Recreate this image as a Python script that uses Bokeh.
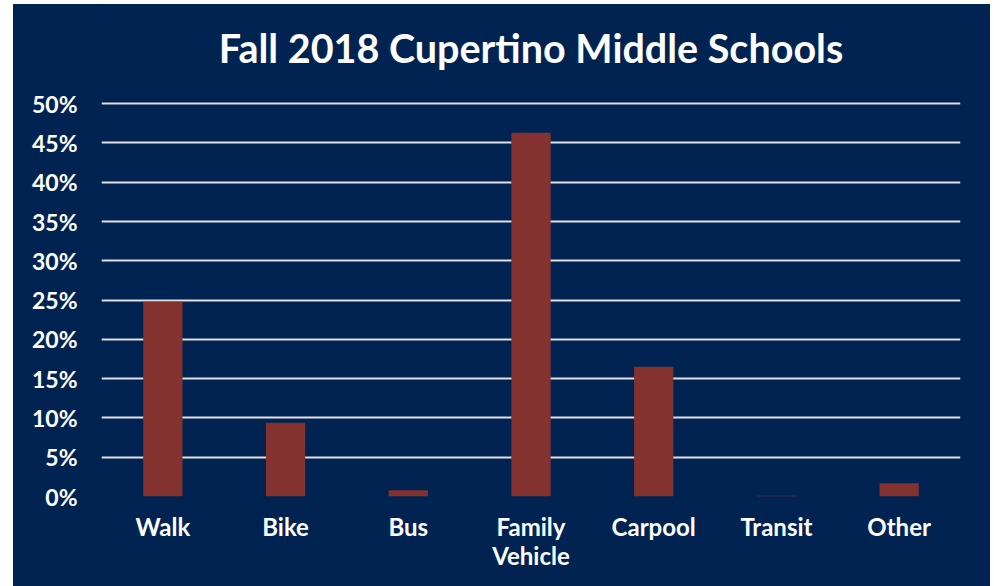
from bokeh.plotting import figure
from bokeh.models import FactorRange, Range1d, FixedTicker, PrintfTickFormatter, Spacer, CategoricalAxis
from bokeh.layouts import row, column
from bokeh.core.properties import value
from bokeh.embed import file_html
from bokeh.resources import INLINE

title = "Fall 2018 Cupertino Middle Schools"
categories = ["Walk", "Bike", "Bus", "Family Vehicle", "Carpool", "Transit", "Other"]
shares = [24.8, 9.4, 0.8, 46.3, 16.5, 0.1, 1.7]
y_ticks = [0, 5, 10, 15, 20, 25, 30, 35, 40, 45, 50]
label_line1 = ["Walk", "Bike", "Bus", "Family", "Carpool", "Transit", "Other"]
label_line2 = [" ", "  ", "   ", "Vehicle", "    ", "     ", "      "]

NAVY = "#002352"
BAR = "#833230"
FONT = "Lato"

# title strip
t = figure(width=977, height=83, x_range=Range1d(0, 1), y_range=Range1d(0, 1),
           output_backend="svg", toolbar_location=None,
           min_border=0, min_border_left=0, min_border_right=0, min_border_top=0, min_border_bottom=0)
t.axis.visible = False
t.grid.visible = False
t.outline_line_color = None
t.background_fill_color = NAVY
t.border_fill_color = NAVY
t.styles = {"background-color": NAVY}
t.text(x=[0.5], y=[0.482], text=[title], text_color="white", text_font=value(FONT),
       text_font_style="bold", text_font_size="39.5px", text_align="center",
       text_baseline="alphabetic")

p = figure(width=977, height=499, x_range=FactorRange(*categories), y_range=Range1d(0, 50.4),
           output_backend="svg", toolbar_location=None,
           min_border_left=88, min_border_right=30, min_border_top=13, min_border_bottom=90)
p.background_fill_color = NAVY
p.border_fill_color = NAVY
p.styles = {"background-color": NAVY}
p.outline_line_color = None
p.extra_x_ranges = {"line1": FactorRange(*label_line1), "line2": FactorRange(*label_line2)}

p.vbar(x=categories, top=shares, width=0.32, fill_color=BAR, line_color=None)

p.xaxis.visible = False
p.xgrid.grid_line_color = None
p.ygrid.grid_line_color = "#e0e0e0"
p.ygrid.grid_line_width = 2
p.yaxis.ticker = FixedTicker(ticks=y_ticks)
p.yaxis.formatter = PrintfTickFormatter(format="%d%%")

x1 = CategoricalAxis(x_range_name="line1")
x2 = CategoricalAxis(x_range_name="line2")
p.add_layout(x1, "below")
p.add_layout(x2, "below")

for ax in (x1, x2, p.yaxis[0]):
    ax.axis_line_color = None
    ax.major_tick_line_color = None
    ax.minor_tick_line_color = None
    ax.major_label_text_color = "white"
    ax.major_label_text_font = FONT
    ax.major_label_text_font_style = "bold"

p.yaxis.major_label_text_font_size = "23px"
x1.major_label_text_font_size = "24px"
x2.major_label_text_font_size = "24px"
p.yaxis.major_label_standoff = 18
x1.major_label_standoff = 9
x2.major_label_standoff = -9

layout = column(Spacer(height=4), row(Spacer(width=13), column(t, p)))
open("out.html", "w").write(file_html(layout, INLINE))
